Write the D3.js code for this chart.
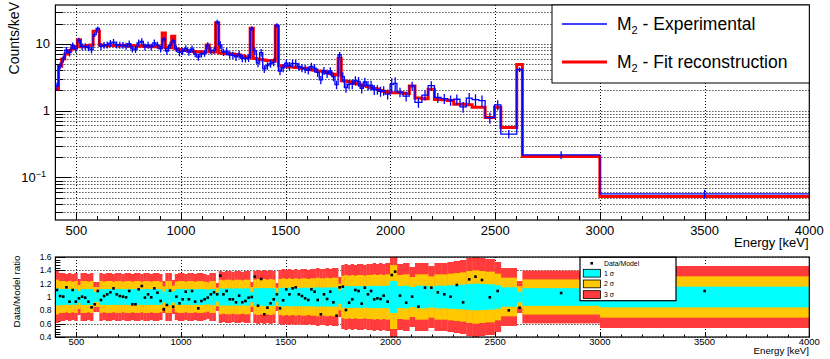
<!DOCTYPE html>
<html>
<head>
<meta charset="utf-8">
<script src="https://cdn.jsdelivr.net/npm/d3@7"></script>
<style>
  body { margin: 0; background: #fff; }
  svg { display: block; font-family: "Liberation Sans", Arial, Helvetica, sans-serif; }
</style>
</head>
<body>
<div id="vis"></div>
<script>
// bin edges in keV (15 keV bins up to ~2000, wider bins above)
let edges = [
  400,415,430,445,460,475,490,505,520,535,
  550,565,580,595,610,625,640,655,670,685,
  700,715,730,745,760,775,790,805,820,835,
  850,865,880,895,910,925,940,955,970,985,
  1000,1015,1030,1045,1060,1075,1090,1105,1120,1135,
  1150,1165,1180,1195,1210,1225,1240,1255,1270,1285,
  1300,1315,1330,1345,1360,1375,1390,1405,1420,1435,
  1450,1465,1480,1495,1510,1525,1540,1555,1570,1585,
  1600,1615,1630,1645,1660,1675,1690,1705,1720,1735,
  1750,1765,1780,1795,1810,1825,1840,1855,1870,1885,
  1900,1915,1930,1945,1960,1975,
  1998,2014,
  2031,2060,2090,2117,2150,2180,2210,2242,2272,2302,
  2332,2362,2390,2422,2452,2497,2527,2603,2630,3000,
  4000
];

// M2 experimental, counts/keV
let expVals = [
  2.32,4.67,5.93,8.02,7.35,9.39,8.37,11.3,9.05,9.11,
  8.74,8.11,13.7,16.9,9.17,9.54,9.67,10.2,10.6,9.67,
  9.54,9.55,9.25,10.0,8.37,8.28,10.3,10.8,9.01,9.57,
  8.96,10.3,9.59,8.37,11.8,7.74,9.53,11.1,8.44,7.42,
  7.72,8.53,7.53,8.39,7.07,6.31,7.05,7.24,9.50,7.90,
  8.03,21.3,9.64,7.49,7.74,6.85,6.76,6.35,6.94,6.07,
  6.02,6.14,17.0,7.83,5.13,7.37,4.22,4.70,5.07,5.31,
  19.0,3.90,4.37,5.13,4.68,5.09,5.04,4.58,4.36,4.21,
  4.01,4.57,4.32,3.72,2.89,3.95,3.59,3.89,3.22,2.45,
  6.87,3.23,2.21,2.47,2.51,2.82,2.73,2.16,2.68,2.39,
  2.40,2.07,2.06,1.94,1.99,1.77,
  2.46,2.55,
  1.89,1.65,2.34,1.33,1.71,2.37,1.57,1.51,1.43,1.48,
  1.14,1.54,1.46,1.41,0.786,1.22,0.446,4.12,0.217,0.0567
];

// M2 fit reconstruction, counts/keV
let fitVals = [
  2.1,4.6,5.9,7.0,7.9,8.5,9.0,11.5,9.0,9.2,
  9.4,9.6,15.4,15.5,9.6,9.4,9.3,9.5,9.4,9.3,
  9.4,9.5,9.3,9.2,9.4,9.3,9.2,9.3,9.1,9.2,
  9.0,9.1,9.0,8.9,14.5,8.8,8.7,13.0,8.4,8.2,
  8.0,7.9,7.8,7.7,7.6,7.6,7.5,7.5,9.6,7.6,
  7.5,20.5,7.3,7.2,7.1,7.1,7.0,6.9,6.8,6.6,
  6.4,6.2,17.0,6.0,5.9,5.8,5.7,5.6,5.6,5.5,
  18.3,4.7,4.6,4.6,4.5,4.5,4.4,4.4,4.3,4.3,
  4.2,4.1,4.0,3.9,3.9,3.8,3.7,3.6,3.5,3.4,
  6.0,2.8,2.75,2.7,2.6,2.55,2.5,2.4,2.35,2.3,
  2.2,2.15,2.1,2.0,1.95,1.9,
  1.85,1.85,
  1.85,1.8,2.33,1.55,1.5,2.08,1.47,1.45,1.42,1.25,
  1.24,1.22,1.12,1.12,0.79,1.12,0.557,4.9,0.205,0.052
];

// data / model ratio
let ratioVals = [
  1.105,1.015,1.005,1.145,0.93,1.105,0.93,0.98,1.005,0.99,
  0.93,0.845,0.89,1.09,0.955,1.015,1.04,1.07,1.13,1.04,
  1.015,1.005,0.995,1.09,0.89,0.89,1.115,1.165,0.99,1.04,
  0.995,1.13,1.065,0.94,0.815,0.88,1.095,0.855,1.005,0.905,
  0.965,1.08,0.965,1.09,0.93,0.83,0.94,0.965,0.99,1.04,
  1.07,1.04,1.32,1.04,1.09,0.965,0.965,0.92,1.02,0.92,
  0.94,0.99,1.0,1.305,0.87,1.27,0.74,0.84,0.905,0.965,
  1.04,0.83,0.95,1.115,1.04,1.13,1.145,1.04,1.015,0.98,
  0.955,1.115,1.08,0.955,0.74,1.04,0.97,1.08,0.92,0.72,
  1.145,1.155,0.805,0.915,0.965,1.105,1.09,0.90,1.14,1.04,
  1.09,0.965,0.98,0.97,1.02,0.93,
  1.33,1.38,
  1.02,0.915,1.005,0.855,1.14,1.14,1.07,1.04,1.005,1.18,
  0.92,1.265,1.305,1.255,0.995,1.09,0.80,0.84,1.06,1.09
];

// relative 1 sigma width of each bin
let sigmaVals = [
  0.13,0.12,0.12,0.115,0.12,0.115,0.12,0.09,0.12,0.12,
  0.115,0.12,0.075,0.075,0.12,0.115,0.12,0.12,0.115,0.12,
  0.12,0.115,0.12,0.12,0.115,0.12,0.12,0.115,0.12,0.12,
  0.115,0.12,0.12,0.115,0.08,0.12,0.12,0.085,0.115,0.12,
  0.12,0.115,0.12,0.12,0.115,0.12,0.12,0.115,0.11,0.12,
  0.12,0.07,0.13,0.125,0.13,0.13,0.125,0.13,0.13,0.125,
  0.13,0.13,0.075,0.13,0.135,0.13,0.135,0.13,0.135,0.13,
  0.07,0.135,0.14,0.135,0.14,0.135,0.14,0.135,0.14,0.14,
  0.135,0.14,0.14,0.145,0.14,0.14,0.145,0.14,0.145,0.145,
  0.10,0.16,0.165,0.16,0.165,0.16,0.165,0.165,0.16,0.165,
  0.165,0.17,0.165,0.17,0.165,0.17,
  0.24,0.24,
  0.165,0.17,0.15,0.17,0.17,0.155,0.17,0.17,0.175,0.18,
  0.185,0.195,0.2,0.195,0.19,0.175,0.145,0.08,0.132,0.155
];

let xTicks = [500,1000,1500,2000,2500,3000,3500,4000];
let yTopMajor = [0.1, 1, 10];
let yBotTicks = [0.4,0.6,0.8,1,1.2,1.4,1.6];

let bins = fitVals.map(function(f, i) {
  return { lo: edges[i], hi: edges[i + 1], fit: f, exp: expVals[i], ratio: ratioVals[i], sig: sigmaVals[i] };
});

let svg = d3.select('#vis').append('svg')
  .attr('width', 830)
  .attr('height', 359);

let x = d3.scaleLinear().domain([400, 4000]).range([55.4, 809.3]);
let yTop = d3.scaleLog().domain([0.0231, 38]).range([220, 5]);
let yBot = d3.scaleLinear().domain([0.4, 1.6]).range([337, 257]);

// snap a coordinate to the pixel grid so dotted lines stay crisp
const px = v => Math.round(v) + 0.5;

let defs = svg.append('defs');
defs.append('clipPath').attr('id', 'clipTop').append('rect')
  .attr('x', x(400)).attr('y', 5).attr('width', x(4000) - x(400)).attr('height', 215);
defs.append('clipPath').attr('id', 'clipBot').append('rect')
  .attr('x', x(400)).attr('y', 257).attr('width', x(4000) - x(400)).attr('height', 80);

// ---------------- top panel ----------------
let topG = svg.append('g');

// grid
let yGrid = yTop.ticks();
topG.append('g').selectAll('line').data(yGrid).enter().append('line')
  .attr('x1', x(400)).attr('x2', x(4000))
  .attr('y1', d => px(yTop(d))).attr('y2', d => px(yTop(d)))
  .attr('stroke', '#000').attr('stroke-width', 1).attr('stroke-dasharray', '1,2');
topG.append('g').selectAll('line').data(xTicks.slice(0, -1)).enter().append('line')
  .attr('x1', d => px(x(d))).attr('x2', d => px(x(d)))
  .attr('y1', 5).attr('y2', 220)
  .attr('stroke', '#000').attr('stroke-width', 1).attr('stroke-dasharray', '1,2');

// y ticks (inside the frame)
topG.append('g').selectAll('line').data(yGrid).enter().append('line')
  .attr('x1', x(400))
  .attr('x2', d => x(400) + (yTopMajor.indexOf(d) >= 0 ? 16 : 8))
  .attr('y1', d => px(yTop(d))).attr('y2', d => px(yTop(d)))
  .attr('stroke', '#000').attr('stroke-width', 1);

// x ticks
let xMinor = d3.range(400, 4001, 100);
topG.append('g').selectAll('line').data(xMinor).enter().append('line')
  .attr('x1', d => px(x(d))).attr('x2', d => px(x(d)))
  .attr('y1', 220)
  .attr('y2', d => 220 - (d % 500 === 0 ? 8 : 4))
  .attr('stroke', '#000').attr('stroke-width', 1);

// histograms
let step = d3.line()
  .x(d => x(d[0]))
  .y(d => yTop(d[1]))
  .curve(d3.curveStepAfter);

let plot = topG.append('g').attr('clip-path', 'url(#clipTop)');

let fitPts = bins.map(b => [b.lo, b.fit]);
fitPts.push([4000, fitVals[fitVals.length - 1]]);
plot.append('path').attr('d', step(fitPts))
  .attr('fill', 'none').attr('stroke', '#ff0000').attr('stroke-width', 3);

let expPts = bins.map(b => [b.lo, b.exp]);
expPts.push([4000, expVals[expVals.length - 1]]);
plot.append('path').attr('d', step(expPts))
  .attr('fill', 'none').attr('stroke', '#0000ff').attr('stroke-width', 1.3);

// error bars of the experimental histogram
plot.append('g').selectAll('line').data(bins).enter().append('line')
  .attr('x1', d => x((d.lo + d.hi) / 2)).attr('x2', d => x((d.lo + d.hi) / 2))
  .attr('y1', d => yTop(d.exp * (1 + d.sig)))
  .attr('y2', d => yTop(d.exp * (1 - d.sig)))
  .attr('stroke', '#0000ff').attr('stroke-width', 1.3);

// frame
topG.append('rect')
  .attr('x', x(400)).attr('y', 5).attr('width', x(4000) - x(400)).attr('height', 215)
  .attr('fill', 'none').attr('stroke', '#000').attr('stroke-width', 1.2);

// axis labels
topG.append('g').selectAll('text').data(xTicks).enter().append('text')
  .attr('x', d => x(d)).attr('y', 234.5)
  .attr('text-anchor', 'middle').attr('font-size', 13)
  .text(d => d);

let yLab = topG.append('g').attr('font-size', 13).attr('text-anchor', 'end');
yLab.append('text').attr('x', 50).attr('y', yTop(10) + 4.7).text('10');
yLab.append('text').attr('x', 50).attr('y', yTop(1) + 4.7).text('1');
let t01 = yLab.append('text').attr('x', 46).attr('y', yTop(0.1) + 4.7);
t01.append('tspan').text('10');
t01.append('tspan').attr('dy', -5).attr('font-size', 9).text('\u22121');

topG.append('text')
  .attr('transform', 'translate(19,2) rotate(-90)')
  .attr('text-anchor', 'end').attr('font-size', 14)
  .text('Counts/keV');
topG.append('text')
  .attr('x', 808.5).attr('y', 247)
  .attr('text-anchor', 'end').attr('font-size', 13)
  .text('Energy [keV]');

// legend
let leg = topG.append('g');
leg.append('rect').attr('x', 552).attr('y', 5).attr('width', 809.3 - 552).attr('height', 78)
  .attr('fill', '#fff').attr('stroke', '#000').attr('stroke-width', 1);
let legItems = [
  { name: 'Experimental', color: '#0000ff', w: 1.5, y: 24 },
  { name: 'Fit reconstruction', color: '#ff0000', w: 3, y: 62 }
];
legItems.forEach(function(d) {
  leg.append('line').attr('x1', 562).attr('x2', 607).attr('y1', d.y).attr('y2', d.y)
    .attr('stroke', d.color).attr('stroke-width', d.w);
  let t = leg.append('text').attr('x', 617).attr('y', d.y + 5.5).attr('font-size', 17.5);
  t.append('tspan').text('M');
  t.append('tspan').attr('dy', 4.5).attr('font-size', 11).text('2');
  t.append('tspan').attr('dy', -4.5).text(' - ' + d.name);
});

// ---------------- bottom panel ----------------
let botG = svg.append('g');

botG.append('g').selectAll('line').data(yBotTicks).enter().append('line')
  .attr('x1', x(400)).attr('x2', x(4000))
  .attr('y1', d => px(yBot(d))).attr('y2', d => px(yBot(d)))
  .attr('stroke', '#000').attr('stroke-width', 1).attr('stroke-dasharray', '1,2');
botG.append('g').selectAll('line').data(xTicks.slice(0, -1)).enter().append('line')
  .attr('x1', d => px(x(d))).attr('x2', d => px(x(d)))
  .attr('y1', 257).attr('y2', 337)
  .attr('stroke', '#000').attr('stroke-width', 1).attr('stroke-dasharray', '1,2');

// ticks
let yBotMinor = d3.range(0.4, 1.601, 0.04);
botG.append('g').selectAll('line').data(yBotMinor).enter().append('line')
  .attr('x1', x(400))
  .attr('x2', (d, i) => x(400) + (i % 5 === 0 ? 10 : 5))
  .attr('y1', d => px(yBot(d))).attr('y2', d => px(yBot(d)))
  .attr('stroke', '#000').attr('stroke-width', 1);
botG.append('g').selectAll('line').data(xMinor).enter().append('line')
  .attr('x1', d => px(x(d))).attr('x2', d => px(x(d)))
  .attr('y1', 337)
  .attr('y2', d => 337 - (d % 500 === 0 ? 5 : 2.5))
  .attr('stroke', '#000').attr('stroke-width', 1);

// sigma bands
let bands = botG.append('g').attr('clip-path', 'url(#clipBot)');
let bandDefs = [
  { k: 3, color: '#ff3b3b' },
  { k: 2, color: '#ffc800' },
  { k: 1, color: '#00ffff' }
];
bandDefs.forEach(function(s) {
  bands.append('g').selectAll('rect').data(bins).enter().append('rect')
    .attr('x', d => x(d.lo))
    .attr('width', d => x(d.hi) - x(d.lo) + 0.3)
    .attr('y', d => yBot(1 + s.k * d.sig))
    .attr('height', d => yBot(1 - s.k * d.sig) - yBot(1 + s.k * d.sig))
    .attr('fill', s.color);
});

// ratio points
bands.append('g').selectAll('rect').data(bins).enter().append('rect')
  .attr('x', d => x((d.lo + d.hi) / 2) - 1.3)
  .attr('y', d => yBot(d.ratio) - 1.3)
  .attr('width', 2.6).attr('height', 2.6)
  .attr('fill', '#000');

botG.append('rect')
  .attr('x', x(400)).attr('y', 257).attr('width', x(4000) - x(400)).attr('height', 80)
  .attr('fill', 'none').attr('stroke', '#000').attr('stroke-width', 1.2);

botG.append('g').selectAll('text').data(yBotTicks).enter().append('text')
  .attr('x', 51.5).attr('y', d => yBot(d) + 3)
  .attr('text-anchor', 'end').attr('font-size', 8.5)
  .text(d => d3.format('.1f')(d).replace('.0', ''));
botG.append('g').selectAll('text').data(xTicks).enter().append('text')
  .attr('x', d => x(d)).attr('y', 344.5)
  .attr('text-anchor', 'middle').attr('font-size', 9.5)
  .text(d => d);

botG.append('text')
  .attr('transform', 'translate(20,255.5) rotate(-90)')
  .attr('text-anchor', 'end').attr('font-size', 9.8)
  .text('Data/Model ratio');
botG.append('text')
  .attr('x', 809).attr('y', 354)
  .attr('text-anchor', 'end').attr('font-size', 9.7)
  .text('Energy [keV]');

// legend of the ratio panel
let leg2 = botG.append('g');
leg2.append('rect').attr('x', 580).attr('y', 257.3).attr('width', 96).attr('height', 43.4)
  .attr('fill', '#fff').attr('stroke', '#000').attr('stroke-width', 1.2);
leg2.append('rect').attr('x', 590.4).attr('y', 262).attr('width', 2.6).attr('height', 2.6).attr('fill', '#000');
leg2.append('text').attr('x', 604).attr('y', 265.7).attr('font-size', 6.9).text('Data/Model');
let legBands = [
  { label: '1 \u03c3', color: '#00ffff', y: 269.3 },
  { label: '2 \u03c3', color: '#ffc800', y: 280 },
  { label: '3 \u03c3', color: '#ff3b3b', y: 290.7 }
];
legBands.forEach(function(d) {
  leg2.append('rect').attr('x', 583.3).attr('y', d.y).attr('width', 17.2).attr('height', 7.8)
    .attr('fill', d.color).attr('stroke', '#000').attr('stroke-width', 0.8);
  leg2.append('text').attr('x', 604).attr('y', d.y + 6.3).attr('font-size', 6.9).text(d.label);
});
</script>
</body>
</html>
